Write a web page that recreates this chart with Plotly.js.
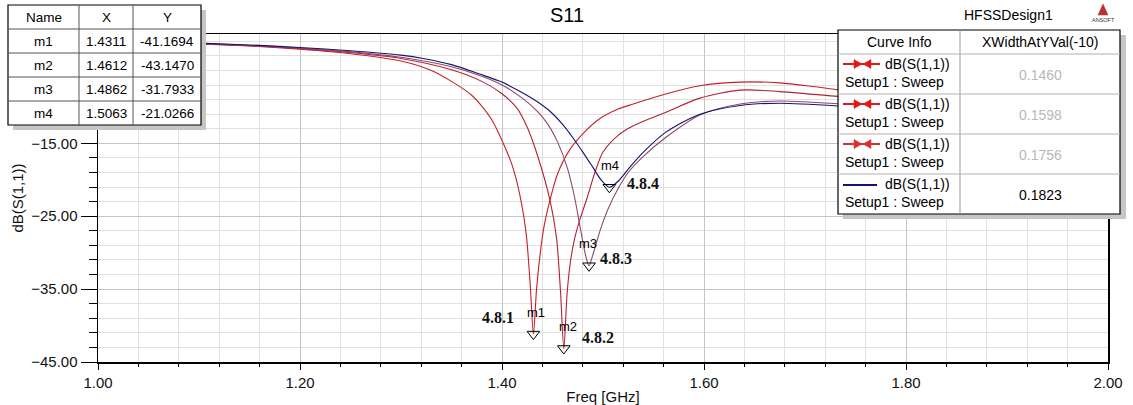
<!DOCTYPE html>
<html>
<head>
<meta charset="utf-8">
<script src="https://cdn.plot.ly/plotly-3.0.1.min.js"></script>
<style>html,body{margin:0;padding:0;background:#fff;}#chart{width:1133px;height:405px;}</style>
</head>
<body>
<div id="chart"></div>
<script>
// ---------------- data ----------------
const freq1 = [1.00,1.05,1.10,1.15,1.20,1.25,1.30,1.33,1.35,1.37,1.38,1.39,1.40,1.41,1.418,1.424,1.428,1.4311,1.4342,1.4375,1.4415,1.4475,1.455,1.467,1.48,1.497,1.515,1.53,1.563,1.596,1.636,1.675,1.708,1.735,1.80,1.87,1.94,2.00];
const dB1   = [-0.9,-1.1,-1.35,-1.65,-2.1,-2.7,-3.7,-5.0,-6.5,-8.4,-9.9,-11.8,-14.6,-18.0,-22.3,-27.5,-34.5,-41.1694,-35.0,-30.5,-26.5,-22.8,-19.2,-15.9,-13.7,-11.6,-10.3,-9.6,-8.2,-7.1,-6.6,-6.7,-7.2,-7.7,-8.6,-9.6,-10.4,-11.0];

const freq2 = [1.00,1.05,1.10,1.15,1.20,1.25,1.30,1.35,1.38,1.40,1.415,1.425,1.435,1.4475,1.454,1.458,1.4612,1.4645,1.468,1.472,1.477,1.484,1.492,1.50,1.515,1.53,1.563,1.596,1.636,1.675,1.735,1.80,1.87,1.94,2.00];
const dB2   = [-0.88,-1.08,-1.32,-1.6,-2.0,-2.55,-3.35,-4.9,-6.5,-8.2,-10.2,-12.8,-16.6,-22.8,-28.0,-35.5,-43.147,-35.5,-31.0,-28.0,-25.5,-22.6,-19.0,-16.2,-13.9,-12.6,-10.7,-8.8,-7.7,-7.9,-8.6,-9.4,-10.2,-10.9,-11.4];

const freq3 = [1.00,1.05,1.10,1.15,1.20,1.25,1.30,1.35,1.38,1.40,1.42,1.435,1.445,1.455,1.465,1.472,1.478,1.483,1.4862,1.4895,1.497,1.505,1.515,1.525,1.54,1.563,1.596,1.636,1.675,1.735,1.80,1.87,1.94,2.00];
const dB3   = [-0.85,-1.05,-1.3,-1.57,-1.95,-2.45,-3.2,-4.5,-5.8,-7.0,-8.8,-10.6,-12.3,-14.8,-18.5,-22.5,-27.0,-30.5,-31.7933,-30.5,-27.0,-24.0,-21.2,-19.0,-16.8,-14.1,-11.1,-9.6,-9.2,-9.6,-10.3,-11.0,-11.6,-12.1];

const freq4 = [1.00,1.05,1.10,1.15,1.20,1.25,1.30,1.322,1.35,1.378,1.40,1.418,1.435,1.4475,1.46,1.47,1.48,1.49,1.498,1.5063,1.515,1.527,1.54,1.563,1.596,1.636,1.675,1.735,1.80,1.87,1.94,2.00];
const dB4   = [-0.8,-1.0,-1.25,-1.5,-1.85,-2.3,-2.9,-3.35,-4.2,-5.5,-6.6,-7.9,-9.3,-10.6,-12.4,-14.2,-16.2,-18.3,-20.0,-21.0266,-20.2,-18.2,-16.2,-13.4,-11.0,-9.8,-9.5,-9.9,-10.6,-11.3,-11.9,-12.4];

const markerNames  = ['m1','m2','m3','m4'];
const markerX      = [1.4311,1.4612,1.4862,1.5063];
const markerY      = [-41.1694,-43.1470,-31.7933,-21.0266];
const designLabels = ['4.8.1','4.8.2','4.8.3','4.8.4'];

const yTickVals = [-45,-35,-25,-15];
const curveLabel = 'dB(S(1,1))';
const sweepLabel = 'Setup1 : Sweep';
const widthValues = ['0.1460','0.1598','0.1756','0.1823'];
const tableHeader = ['Name','X','Y'];
const legendHeader = ['Curve Info','XWidthAtYVal(-10)'];

// ---------------- styling ----------------
const curveColors = ['#c8202a','#b42232','#8e4868','#14146e'];
const legendSymColors = ['#e01818','#e01818','#d83030','#14146e'];
const FONT = 'Liberation Sans, Arial, sans-serif';

// pixel -> paper helpers (layout positioning only)
const L=98, R=1108, T=34, B=362;
const fx = p => (p-L)/(R-L);
const fy = p => (B-p)/(B-T);

const shapes = [];
const ann = [];
function rect(x0,y0,x1,y1,fill,lc,lw){
  shapes.push({type:'rect',xref:'paper',yref:'paper',x0:fx(x0),x1:fx(x1),y0:fy(y0),y1:fy(y1),
    fillcolor:fill,line:{color:lc||fill,width:lc?lw:0},layer:'above'});
}
function line(x0,y0,x1,y1,c,w){
  shapes.push({type:'line',xref:'paper',yref:'paper',x0:fx(x0),x1:fx(x1),y0:fy(y0),y1:fy(y1),
    line:{color:c,width:w},layer:'above'});
}
function tri(pts,c){
  const d = 'M'+pts.map(p=>fx(p[0])+','+fy(p[1])).join(' L')+' Z';
  shapes.push({type:'path',xref:'paper',yref:'paper',path:d,fillcolor:c,line:{color:c,width:0.5},layer:'above'});
}
function text(t,x,y,opt){
  opt=opt||{};
  ann.push({text:t,xref:'paper',yref:'paper',x:fx(x),y:fy(y),showarrow:false,
    xanchor:opt.xa||'center',yanchor:'middle',
    font:{family:opt.family||FONT,size:opt.size||14,color:opt.color||'#000'}});
}

// ---- top-left marker table ----
rect(13,10,206,130,'#c6c6c6');
rect(8,5,201,125,'#ffffff','#000',1.2);
line(79,5,79,125,'#555',1);
line(133,5,133,125,'#555',1);
[29,53,77,101].forEach(y=>line(8,y,201,y,'#555',1));
const colC=[43.5,106,167];
tableHeader.forEach((h,i)=>text(h,colC[i],17,{size:13.5}));
markerNames.forEach((n,i)=>{
  const yc = 41+24*i;
  text(n,colC[0],yc,{size:13.5});
  text(markerX[i].toFixed(4),colC[1],yc,{size:13.5});
  text(markerY[i].toFixed(4),colC[2],yc,{size:13.5});
});

// ---- right legend table ----
rect(843,35,1126,219,'#c6c6c6');
rect(838,30,1120,214,'#ffffff','#000',1.2);
line(960,30,960,214,'#9a9a9a',1);
[54,94,134,174].forEach(y=>line(838,y,1120,y,'#b0b0b0',1));
text(legendHeader[0],899,42,{size:14});
text(legendHeader[1],1040,42,{size:14});
widthValues.forEach((v,i)=>{
  const top = 54+40*i;
  const ys = top+10;
  if(i<3){
    line(843,ys,880,ys,legendSymColors[i],2);
    tri([[854,ys-4.5],[862,ys],[854,ys+4.5]],legendSymColors[i]);
    tri([[871,ys-4.5],[863,ys],[871,ys+4.5]],legendSymColors[i]);
  } else {
    line(843,ys+1,877,ys+1,legendSymColors[i],2);
  }
  text(curveLabel,883,ys,{xa:'left',size:14});
  text(sweepLabel,843,top+28,{xa:'left',size:14});
  text(v,1040,top+21,{size:14,color:i<3?'#b8b8b8':'#000'});
});

// ---- header texts / logo ----
text('HFSSDesign1',1008,15,{size:14});
tri([[1103,4],[1098,15],[1108,15]],'#b83030');
text('ANSOFT',1103,19.5,{size:5.5,color:'#333'});

// ---- marker labels ----
const mShift = [[3,22],[4,22],[-1,22],[1,22]];
const dShift = [[-35,17],[34,11],[27,7],[34,4]];
markerNames.forEach((n,i)=>{
  ann.push({text:n,x:markerX[i],y:markerY[i],xref:'x',yref:'y',showarrow:false,
    xshift:mShift[i][0],yshift:mShift[i][1],font:{family:FONT,size:13,color:'#000'}});
  ann.push({text:'<b>'+designLabels[i]+'</b>',x:markerX[i],y:markerY[i],xref:'x',yref:'y',showarrow:false,
    xshift:dShift[i][0],yshift:dShift[i][1],font:{family:'Liberation Serif, Times New Roman, serif',size:16,color:'#111'}});
});

// ---------------- traces ----------------
const series = [[freq1,dB1],[freq2,dB2],[freq3,dB3],[freq4,dB4]];
const traces = series.map((s,i)=>({
  x:s[0], y:s[1], type:'scatter', mode:'lines',
  line:{color:curveColors[i],width:1.1,shape:'spline',smoothing:0.8}, hoverinfo:'skip', showlegend:false
}));
traces.push({
  x:markerX, y:markerY, type:'scatter', mode:'markers', showlegend:false, hoverinfo:'skip',
  marker:{symbol:'triangle-down-open',size:11,color:'#000',line:{width:1,color:'#000'}}
});

const layout = {
  width:1133, height:405, autosize:false,
  margin:{l:L, r:1133-R, t:T, b:405-B, pad:0},
  paper_bgcolor:'#fff', plot_bgcolor:'#fff',
  showlegend:false,
  font:{family:FONT,color:'#000'},
  title:{text:'S11', font:{family:FONT,size:20,color:'#000'}, x:567/1133, xref:'container', xanchor:'center',
         y:1-15/405, yref:'container', yanchor:'middle'},
  xaxis:{
    range:[1,2], tick0:1, dtick:0.2, tickformat:'.2f',
    ticks:'outside', ticklen:6, tickwidth:1, tickcolor:'#000',
    tickfont:{family:FONT,size:15,color:'#111'},
    showgrid:true, gridcolor:'#c4c4c4', gridwidth:1,
    minor:{dtick:0.04, ticks:'outside', ticklen:3, tickcolor:'#000', showgrid:true, gridcolor:'#e0e0e0', gridwidth:1},
    showline:true, linecolor:'#000', linewidth:1.5, mirror:true, zeroline:false,
    title:{text:'Freq [GHz]', font:{family:FONT,size:15,color:'#111'}, standoff:3}
  },
  yaxis:{
    range:[-45,0], tickmode:'array', tickvals:yTickVals, tickformat:'.2f',
    ticks:'outside', ticklen:16, tickwidth:1, tickcolor:'#000',
    tickfont:{family:FONT,size:15,color:'#111'},
    showgrid:true, gridcolor:'#c4c4c4', gridwidth:1,
    minor:{dtick:2, tick0:-45, ticks:'outside', ticklen:8, tickcolor:'#000', showgrid:true, gridcolor:'#e0e0e0', gridwidth:1},
    showline:true, linecolor:'#000', linewidth:1.5, mirror:true, zeroline:false,
    title:{text:'dB(S(1,1))', font:{family:FONT,size:15,color:'#111'}, standoff:4}
  },
  shapes:shapes,
  annotations:ann
};

Plotly.newPlot('chart', traces, layout, {staticPlot:true, displayModeBar:false});
</script>
</body>
</html>
